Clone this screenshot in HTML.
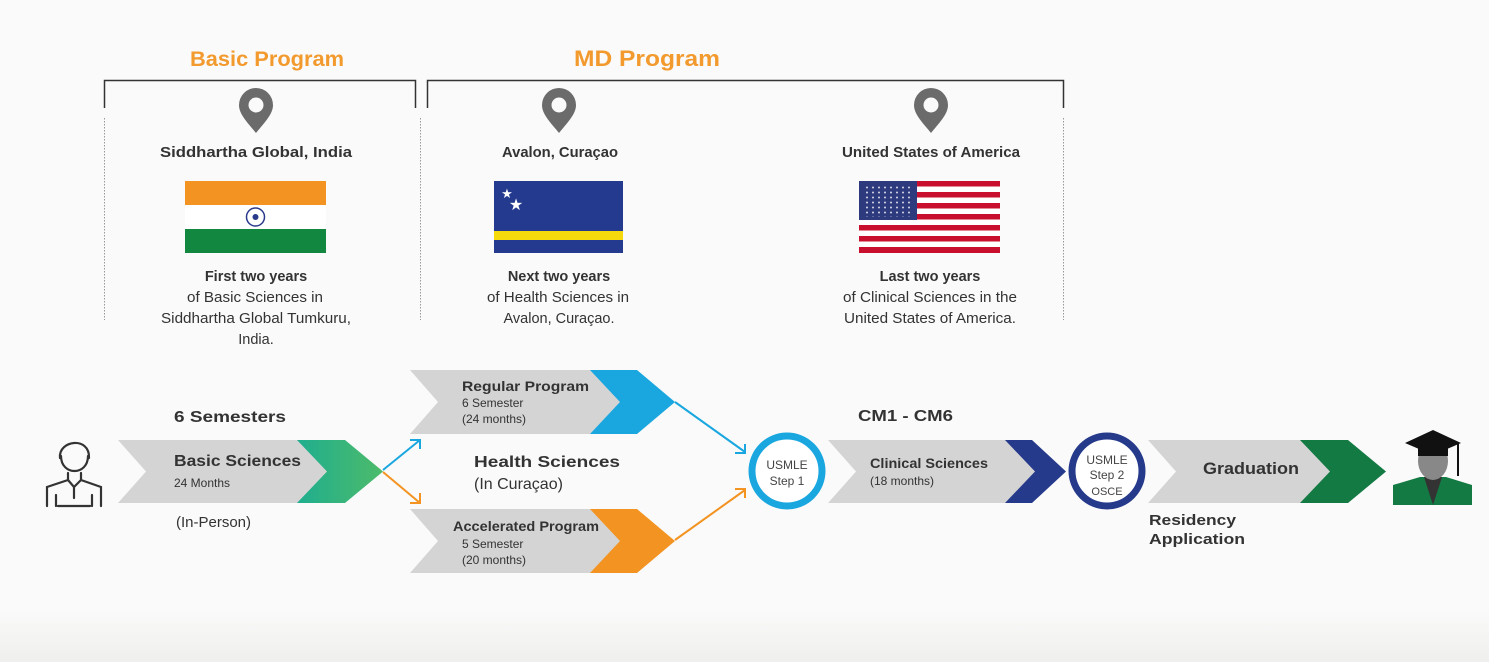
<!DOCTYPE html>
<html><head><meta charset="utf-8"><style>
body{margin:0;background:#fafafa;}
svg{display:block;font-family:"Liberation Sans",sans-serif;}
</style></head><body>
<svg width="1489" height="662" viewBox="0 0 1489 662" xmlns="http://www.w3.org/2000/svg">
<defs>
<linearGradient id="gg" x1="0" x2="1"><stop offset="0" stop-color="#1fae8f"/><stop offset="1" stop-color="#4dbb6a"/></linearGradient>
<linearGradient id="bot" x1="0" y1="0" x2="0" y2="1"><stop offset="0" stop-color="#fafafa"/><stop offset="1" stop-color="#efefed"/></linearGradient>
<g id="pin"><path d="M0,19 C-9,8 -17,0 -17,-9 A17,17 0 1 1 17,-9 C17,0 9,8 0,19Z" fill="#6b6b6b"/><circle cx="0" cy="-9" r="7.5" fill="#fafafa"/></g>
<pattern id="st" width="6" height="5" patternUnits="userSpaceOnUse"><circle cx="3" cy="2.5" r="1" fill="#fff"/></pattern>
</defs>
<rect width="1489" height="662" fill="#fafafa"/>
<rect x="0" y="610" width="1489" height="52" fill="url(#bot)"/>
<!-- headings -->
<text x="190" y="66" textLength="154" lengthAdjust="spacingAndGlyphs" font-size="21" font-weight="bold" fill="#f29a2e">Basic Program</text>
<text x="574" y="66" textLength="146" lengthAdjust="spacingAndGlyphs" font-size="22" font-weight="bold" fill="#f29a2e">MD Program</text>
<g stroke="#333" stroke-width="1.5" fill="none">
<path d="M104.5,108 V80.5 H415.5 V108"/>
<path d="M427.5,108 V80.5 H1063.5 V108"/>
</g>
<g stroke="#999" stroke-width="1" stroke-dasharray="1.5,1.5">
<line x1="104.5" y1="118" x2="104.5" y2="320"/>
<line x1="420.5" y1="118" x2="420.5" y2="320"/>
<line x1="1063.5" y1="118" x2="1063.5" y2="320"/>
</g>
<use href="#pin" x="256" y="114"/>
<use href="#pin" x="559" y="114"/>
<use href="#pin" x="931" y="114"/>
<g font-size="15" font-weight="bold" fill="#333">
<text x="160" y="157" textLength="192" lengthAdjust="spacingAndGlyphs">Siddhartha Global, India</text>
<text x="502" y="157" textLength="116" lengthAdjust="spacingAndGlyphs">Avalon, Curaçao</text>
<text x="842" y="157" textLength="178" lengthAdjust="spacingAndGlyphs">United States of America</text>
</g>
<!-- India flag -->
<rect x="185" y="181" width="141" height="24" fill="#f39321"/>
<rect x="185" y="205" width="141" height="24" fill="#fff"/>
<rect x="185" y="229" width="141" height="24" fill="#12873f"/>
<circle cx="255.5" cy="217" r="9" fill="none" stroke="#2a3a8a" stroke-width="1.5"/>
<circle cx="255.5" cy="217" r="3" fill="#2a3a8a"/>
<!-- Curacao flag -->
<rect x="494" y="181" width="129" height="72" fill="#233a8f"/>
<rect x="494" y="231" width="129" height="9" fill="#f5d90c"/>
<text x="507" y="198" font-size="13" fill="#fff" text-anchor="middle">★</text>
<text x="516" y="210" font-size="16" fill="#fff" text-anchor="middle">★</text>
<!-- US flag -->
<rect x="859" y="181" width="141" height="72" fill="#fff"/>
<g fill="#c8102e">
<rect x="859" y="181" width="141" height="5.5"/><rect x="859" y="192" width="141" height="5.5"/><rect x="859" y="203" width="141" height="5.5"/><rect x="859" y="214" width="141" height="5.5"/><rect x="859" y="225" width="141" height="5.5"/><rect x="859" y="236" width="141" height="5.5"/><rect x="859" y="247" width="141" height="6"/>
</g>
<rect x="859" y="181" width="58" height="39" fill="#2d3a7e"/>
<rect x="862" y="184" width="52" height="33" fill="url(#st)" opacity="0.8"/>
<!-- descriptions -->
<g font-size="14.5" fill="#333" text-anchor="middle">
<text x="256" y="281" font-weight="bold">First two years</text>
<text x="255" y="302" textLength="136" lengthAdjust="spacingAndGlyphs">of Basic Sciences in</text>
<text x="256" y="323" textLength="190" lengthAdjust="spacingAndGlyphs">Siddhartha Global Tumkuru,</text>
<text x="256" y="344">India.</text>
<text x="559" y="281" font-weight="bold">Next two years</text>
<text x="558" y="302" textLength="142" lengthAdjust="spacingAndGlyphs">of Health Sciences in</text>
<text x="559" y="323">Avalon, Curaçao.</text>
<text x="930" y="281" font-weight="bold">Last two years</text>
<text x="930" y="302" textLength="174" lengthAdjust="spacingAndGlyphs">of Clinical Sciences in the</text>
<text x="930" y="323" textLength="172" lengthAdjust="spacingAndGlyphs">United States of America.</text>
</g>
<!-- chevrons -->
<path d="M118,440 H300 L330,471.5 L300,503 H118 L146,471.5Z" fill="#d4d4d4"/>
<path d="M297,440 H345 L383,471.5 L345,503 H297 L327,471.5Z" fill="url(#gg)"/>
<path d="M410,370 H600 L630,402 L600,434 H410 L438,402Z" fill="#d4d4d4"/>
<path d="M590,370 H637 L675,402 L637,434 H590 L620,402Z" fill="#1aa7e0"/>
<path d="M410,509 H600 L630,541 L600,573 H410 L438,541Z" fill="#d4d4d4"/>
<path d="M590,509 H637 L675,541 L637,573 H590 L620,541Z" fill="#f39321"/>
<path d="M828,440 H1010 L1040,471.5 L1010,503 H828 L856,471.5Z" fill="#d4d4d4"/>
<path d="M1005,440 H1032 L1066,471.5 L1032,503 H1005 L1035,471.5Z" fill="#263a8c"/>
<path d="M1148,440 H1320 L1345,471.5 L1320,503 H1148 L1176,471.5Z" fill="#d4d4d4"/>
<path d="M1300,440 H1348 L1386,471.5 L1348,503 H1300 L1330,471.5Z" fill="#137a43"/>
<!-- arrows -->
<g stroke-width="2" fill="none">
<path d="M383,470 L420,440 M410,440 H420 V449" stroke="#1aa7e0"/>
<path d="M383,472 L420,503 M420,493 V503 H410" stroke="#f39321"/>
<path d="M675,402 L745,452 M735,453 H745 V444" stroke="#1aa7e0"/>
<path d="M675,540 L745,490 M735,489 H745 V498" stroke="#f39321"/>
</g>
<!-- circles -->
<circle cx="787" cy="471" r="35" fill="#fff" stroke="#1aa7e0" stroke-width="7"/>
<circle cx="1107" cy="471" r="35" fill="#fff" stroke="#263a8c" stroke-width="7"/>
<g fill="#444" text-anchor="middle">
<text x="787" y="469" font-size="12">USMLE</text>
<text x="787" y="485" font-size="12">Step 1</text>
<text x="1107" y="464" font-size="12">USMLE</text>
<text x="1107" y="479" font-size="12">Step 2</text>
<text x="1107" y="495" font-size="11">OSCE</text>
</g>
<!-- texts -->
<g fill="#333">
<text x="174" y="422" font-size="16" font-weight="bold" textLength="112" lengthAdjust="spacingAndGlyphs">6 Semesters</text>
<text x="174" y="466" font-size="16" font-weight="bold" textLength="127" lengthAdjust="spacingAndGlyphs">Basic Sciences</text>
<text x="174" y="487" font-size="12">24 Months</text>
<text x="176" y="527" font-size="15">(In-Person)</text>
<text x="462" y="391" font-size="14" font-weight="bold" textLength="127" lengthAdjust="spacingAndGlyphs">Regular Program</text>
<text x="462" y="407" font-size="12">6 Semester</text>
<text x="462" y="423" font-size="12">(24 months)</text>
<text x="474" y="467" font-size="16" font-weight="bold" textLength="146" lengthAdjust="spacingAndGlyphs">Health Sciences</text>
<text x="474" y="489" font-size="16">(In Curaçao)</text>
<text x="453" y="531" font-size="14" font-weight="bold" textLength="146" lengthAdjust="spacingAndGlyphs">Accelerated Program</text>
<text x="462" y="548" font-size="12">5 Semester</text>
<text x="462" y="564" font-size="12">(20 months)</text>
<text x="858" y="421" font-size="16" font-weight="bold" textLength="95" lengthAdjust="spacingAndGlyphs">CM1 - CM6</text>
<text x="870" y="468" font-size="14" font-weight="bold" textLength="118" lengthAdjust="spacingAndGlyphs">Clinical Sciences</text>
<text x="870" y="485" font-size="12">(18 months)</text>
<text x="1203" y="474" font-size="17" font-weight="bold" textLength="96" lengthAdjust="spacingAndGlyphs">Graduation</text>
<text x="1149" y="525" font-size="15" font-weight="bold" textLength="87" lengthAdjust="spacingAndGlyphs">Residency</text>
<text x="1149" y="544" font-size="15" font-weight="bold" textLength="96" lengthAdjust="spacingAndGlyphs">Application</text>
</g>
<!-- person icon -->
<g stroke="#333" stroke-width="2.2" fill="none" stroke-linecap="round">
<path d="M60,458 C58,440 90,436 89,458"/>
<path d="M61,456 C61,476 88,476 88,456"/>
<path d="M68,473 V480 L47,487 V506 M81,473 V480 L101,487 V506"/>
<path d="M68,480 L74,487 L81,480 M74,487 V498 M56,506 V495 M92,506 V495 M58,506 H90"/>
</g>
<!-- graduate icon -->
<path d="M1393,505 V485 L1420,477 H1446 L1472,485 V505Z" fill="#137a43"/>
<path d="M1424,477 L1433,505 L1442,477Z" fill="#333"/>
<ellipse cx="1433" cy="461" rx="15" ry="19" fill="#888"/>
<path d="M1405,443 L1433,430 L1461,443 L1433,455Z" fill="#111"/>
<path d="M1418,447 H1448 V456 H1418Z" fill="#111"/>
<line x1="1458" y1="444" x2="1458" y2="476" stroke="#111" stroke-width="2"/>
</svg>
</body></html>
